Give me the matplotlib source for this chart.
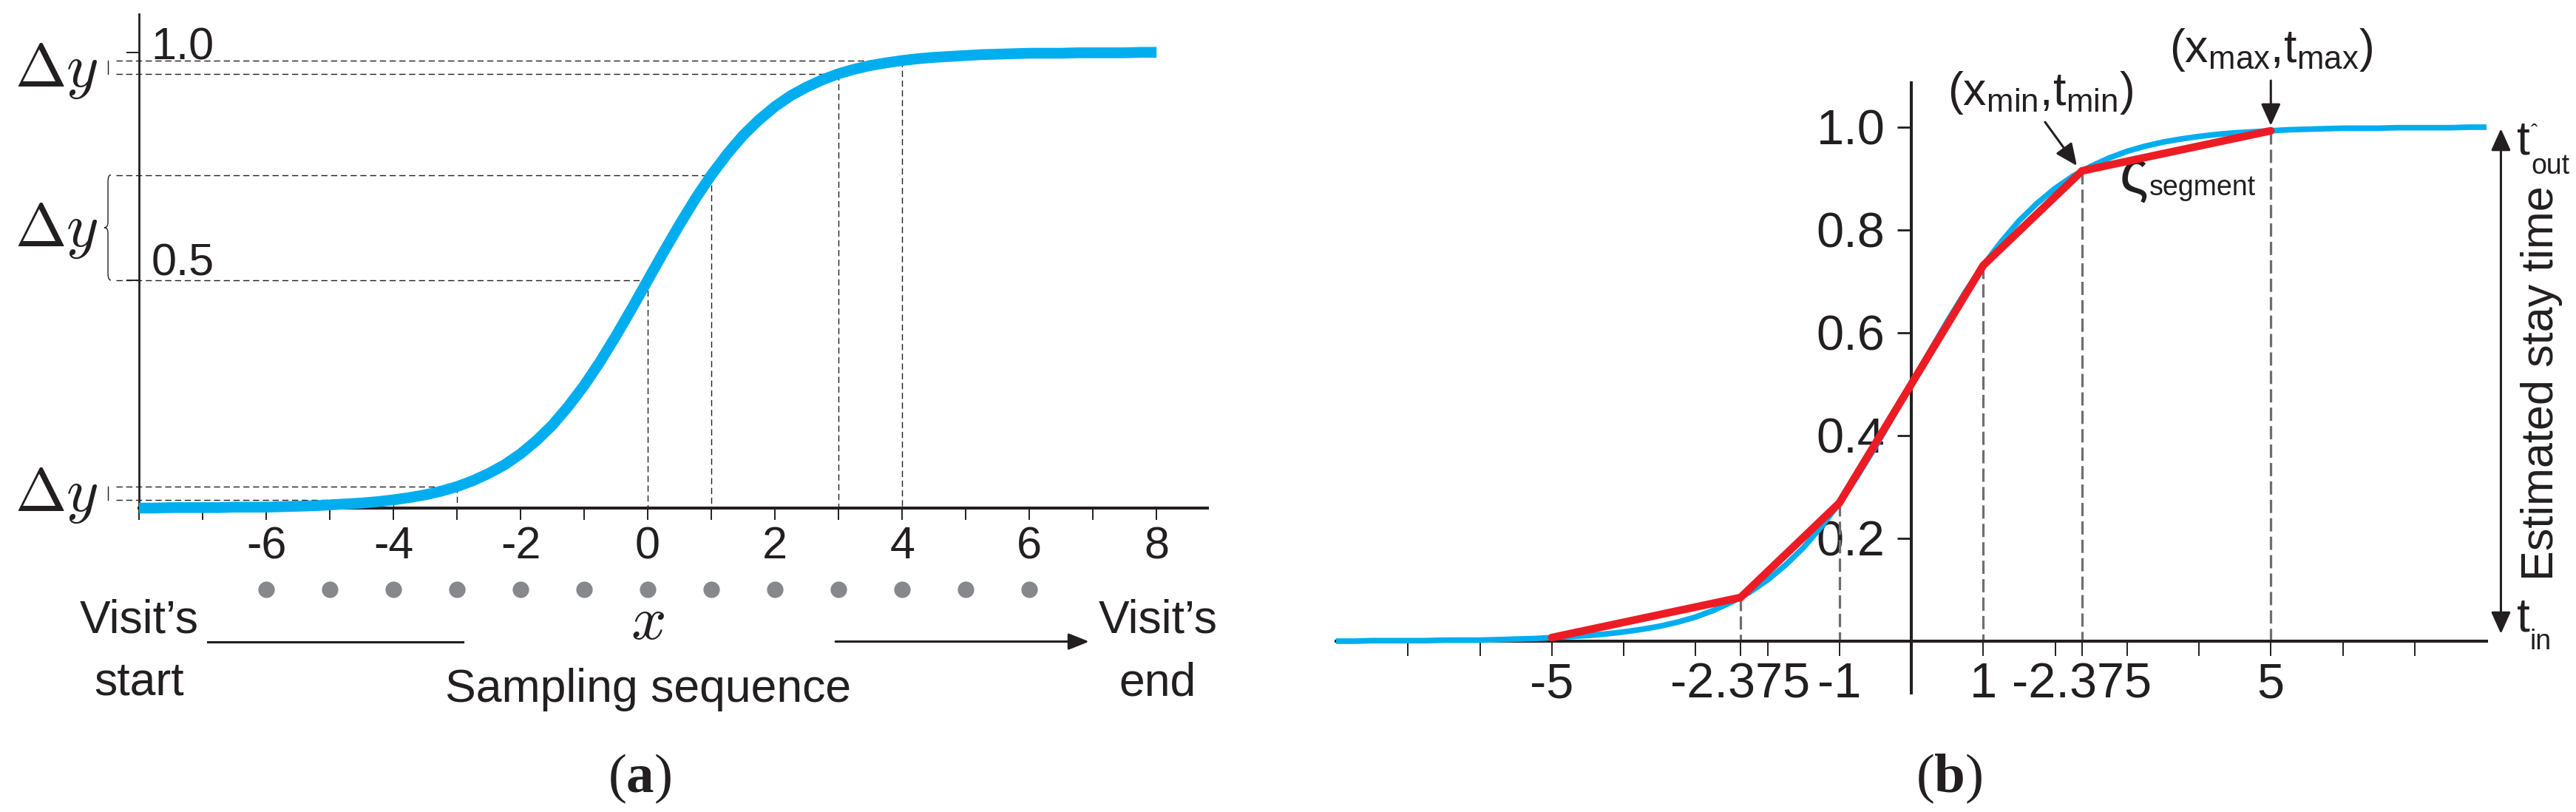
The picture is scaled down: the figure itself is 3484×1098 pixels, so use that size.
import matplotlib
matplotlib.use('Agg')
import matplotlib.pyplot as plt
import numpy as np
from matplotlib.path import Path
from matplotlib.patches import PathPatch

plt.rcParams['font.family'] = ['Liberation Sans', 'DejaVu Sans']
plt.rcParams['mathtext.fontset'] = 'custom'
plt.rcParams['mathtext.rm'] = 'Liberation Sans'
plt.rcParams['mathtext.it'] = 'Liberation Sans:italic'
plt.rcParams['mathtext.bf'] = 'Liberation Serif:bold'

regular = ['Liberation Sans', 'DejaVu Sans']
serif = ['Liberation Serif', 'DejaVu Serif']

blue = '#00aeef'
red = '#ed1c24'
dark = '#231f20'
dot_gray = '#87888c'
dash_gray = '#6d6e71'

curve_x = np.arange(-8, 8.01, 0.25)
curve_y = [0.000, 0.000, 0.001, 0.001, 0.001, 0.001, 0.002, 0.002,
           0.002, 0.003, 0.004, 0.005, 0.007, 0.009, 0.011, 0.014,
           0.018, 0.023, 0.029, 0.037, 0.047, 0.060, 0.076, 0.095,
           0.119, 0.148, 0.182, 0.223, 0.269, 0.321, 0.378, 0.438,
           0.500,
           0.562, 0.622, 0.679, 0.731, 0.777, 0.818, 0.852, 0.881,
           0.905, 0.924, 0.940, 0.953, 0.963, 0.971, 0.977, 0.982,
           0.986, 0.989, 0.991, 0.993, 0.995, 0.996, 0.997, 0.998,
           0.998, 0.998, 0.999, 0.999, 0.999, 0.999, 1.000, 1.000]

# panel (a)
ticks_a = list(range(-8, 9))
labels_a = [-6, -4, -2, 0, 2, 4, 6, 8]
sample_x = [-6, -5, -4, -3, -2, -1, 0, 1, 2, 3, 4, 5, 6]
guide_x = [-4, -3, 0, 1, 3, 4]
guide_y = [0.018, 0.047, 0.500, 0.731, 0.953, 0.982]

# panel (b)
knot_x = [-5, -2.375, -1, 1, 2.375, 5]
knot_y = [0.007, 0.085, 0.269, 0.731, 0.915, 0.993]
ticks_b = [-7, -6, -5, -4, -3, -2.375, -2, -1, 1, 2, 2.375, 3, 4, 5, 6, 7]
tick_labels_b = ['', '', '-5', '', '', '-2.375', '', '-1', '1', '', '-2.375', '', '', '5', '', '']
yticks_b = [0.2, 0.4, 0.6, 0.8, 1.0]

W, H = 3484, 1098
fig = plt.figure(figsize=(W / 100, H / 100), dpi=100)

# ---------------- (a) ----------------
ax = fig.add_axes([188 / W, 1 - 687 / H, 1445 / W, 668 / H])
ax.patch.set_visible(False)
ax.set_xlim(-8, 8.8)
ax.set_ylim(0, 1.084)
ax.spines['top'].set_visible(False)
ax.spines['right'].set_visible(False)
ax.spines['bottom'].set_linewidth(2.9)
ax.spines['left'].set_linewidth(2.0)
ax.spines['bottom'].set_color(dark)
ax.spines['left'].set_color(dark)
ax.set_xticks(ticks_a)
ax.set_xticklabels([str(t) if t in labels_a else '' for t in ticks_a])
ax.tick_params(axis='x', length=11.5, width=1.4, pad=6, labelsize=44,
               color=dark, labelcolor=dark)
ax.set_yticks([0.5, 1.0])
ax.set_yticklabels([])
ax.tick_params(axis='y', length=12, width=1.4, color=dark)

ax.plot(curve_x, curve_y, color=blue, lw=10.5, solid_capstyle='butt',
        clip_on=False, zorder=4)

for gx, gy in zip(guide_x, guide_y):
    ax.plot([-8.36, gx], [gy, gy], color=dark, lw=1.0, dashes=(6, 3.5),
            clip_on=False, zorder=2)
    ax.plot([gx, gx], [gy, 0], color=dark, lw=1.0, dashes=(6, 3.5),
            clip_on=False, zorder=2)

ax.text(-7.81, 0.985, '1.0', fontsize=44, color=dark, ha='left', va='baseline')
ax.text(-7.81, 0.51, '0.5', fontsize=44, color=dark, ha='left', va='baseline')

# delta-y marks with braces
for yb in [0.925, 0.5747, -0.0065]:
    ax.text(-9.953, yb, r'$\Delta y$', math_fontfamily='cm', fontsize=60,
            color=dark, ha='left', va='baseline', clip_on=False)
xm, xt, xe = -8.488, -8.547, -8.442
yt, yb = guide_y[3], guide_y[2]
ym = (yt + yb) / 2
verts = [(xe, yt), (xm, yt), (xm, yt - 0.015), (xm, ym + 0.012),
         (xm, ym), (xt, ym), (xm, ym), (xm, ym - 0.012),
         (xm, yb + 0.015), (xm, yb), (xe, yb)]
codes = [Path.MOVETO, Path.CURVE3, Path.CURVE3, Path.LINETO,
         Path.CURVE3, Path.CURVE3, Path.CURVE3, Path.CURVE3,
         Path.LINETO, Path.CURVE3, Path.CURVE3]
ax.add_patch(PathPatch(Path(verts, codes), fill=False, lw=1.0, color=dark,
                       clip_on=False))
ax.plot([xm, xm], [guide_y[4], guide_y[5]], color=dark, lw=1.0, clip_on=False)
ax.plot([xm, xm], [guide_y[0], guide_y[1]], color=dark, lw=1.0, clip_on=False)

# sampling sequence below the axis
ax.plot(sample_x, np.full(len(sample_x), -0.179), 'o', ms=16, color=dot_gray,
        mec='none', clip_on=False)
ax.text(-8, -0.2727, 'Visit\u2019s', fontsize=45, color=dark, ha='center', va='baseline')
ax.text(-8, -0.409, 'start', fontsize=45, color=dark, ha='center', va='baseline')
ax.text(8.02, -0.2727, 'Visit\u2019s', fontsize=45, color=dark, ha='center', va='baseline')
ax.text(8.02, -0.412, 'end', fontsize=45, color=dark, ha='center', va='baseline')
ax.text(0, -0.2873, r'$x$', math_fontfamily='cm', fontsize=60, color=dark,
        ha='center', va='baseline')
ax.text(0, -0.4245, 'Sampling sequence', fontsize=45, color=dark,
        ha='center', va='baseline')
ax.plot([-6.92, -2.907], [-0.293, -0.293], color=dark, lw=2.2, clip_on=False)
ax.annotate('', xy=(6.94, -0.293), xytext=(2.953, -0.293), annotation_clip=False,
            arrowprops=dict(arrowstyle='-|>,head_length=1.0,head_width=0.4',
                            mutation_scale=17, lw=2.2, color=dark,
                            shrinkA=0, shrinkB=0))
ax.text(-0.128, -0.594, r'($\mathbf{a}$)', family=serif, fontsize=54, color=dark,
        ha='center', va='center')

# ---------------- (b) ----------------
bx = fig.add_axes([1807 / W, 1 - 936.5 / H, 1556 / W, 824.3 / H])
bx.patch.set_visible(False)
bx.set_xlim(-8, 8)
bx.set_ylim(-0.1, 1.086)
bx.spines['top'].set_visible(False)
bx.spines['right'].set_visible(False)
bx.spines['left'].set_position(('data', 0))
bx.spines['bottom'].set_position(('data', 0))
for s in ['left', 'bottom']:
    bx.spines[s].set_linewidth(2.9)
    bx.spines[s].set_color(dark)
bx.set_xticks(ticks_b)
bx.set_xticklabels(tick_labels_b)
bx.tick_params(axis='x', length=14.4, width=1.4, pad=6, labelsize=48,
               color=dark, labelcolor=dark)
bx.set_yticks(yticks_b)
bx.set_yticklabels(['%.1f' % v for v in yticks_b])
bx.tick_params(axis='y', length=13.7, width=2.0, pad=12, labelsize=48,
               color=dark, labelcolor=dark)

for kx, ky in zip(knot_x[1:], knot_y[1:]):
    bx.plot([kx, kx], [ky, 0], color=dash_gray, lw=2.3, dashes=(5.6, 2.2),
            zorder=2)
bx.plot(curve_x, curve_y, color=blue, lw=5.5, solid_capstyle='butt',
        clip_on=False, zorder=3)
bx.plot(knot_x, knot_y, color=red, lw=7.5, solid_capstyle='round',
        solid_joinstyle='miter', clip_on=False, zorder=4)

arrow = dict(arrowstyle='-|>,head_length=1.0,head_width=0.45', mutation_scale=18,
             lw=2.2, color=dark, shrinkA=0, shrinkB=0)
bx.text(1.80, 1.0432, r'$\mathrm{(x_{min}{,}t_{min})}$', fontsize=45, color=dark,
        ha='center', va='baseline')
bx.annotate('', xy=(2.302, 0.925), xytext=(1.86, 1.010), annotation_clip=False,
            arrowprops=arrow)
bx.text(5.005, 1.1266, r'$\mathrm{(x_{max}{,}t_{max})}$', fontsize=45, color=dark,
        ha='center', va='baseline')
bx.annotate('', xy=(5.0, 1.003), xytext=(5.0, 1.0906), annotation_clip=False,
            arrowprops=arrow)
bx.text(2.90, 0.874, '\u03c2', family=regular, fontsize=58, color=dark,
        ha='left', va='baseline')
bx.text(3.31, 0.8676, 'segment', family=regular, fontsize=27, color=dark,
        ha='left', va='baseline')

# stay-time arrow on the right
bx.annotate('', xy=(8.20, 0.997), xytext=(8.20, 0.0144), annotation_clip=False,
            arrowprops=dict(arrowstyle='<|-|>,head_length=1.0,head_width=0.45',
                            mutation_scale=18, lw=2.2, color=dark,
                            shrinkA=0, shrinkB=0))
bx.text(8.42, 0.9468, 't', family=regular, fontsize=46, color=dark,
        ha='left', va='baseline')
bx.text(8.664, 0.978, '\u02c6', family=regular, fontsize=20, color=dark,
        ha='center', va='baseline')
bx.text(8.62, 0.909, 'out', family=regular, fontsize=27, color=dark,
        ha='left', va='baseline')
bx.text(8.42, 0.0201, 't', family=regular, fontsize=46, color=dark,
        ha='left', va='baseline')
bx.text(8.60, -0.0158, 'in', family=regular, fontsize=27, color=dark,
        ha='left', va='baseline')
bx.text(8.77, 0.502, 'Estimated stay time', family=regular, fontsize=44,
        color=dark, rotation=90, ha='center', va='center')
bx.text(0.53, -0.268, r'($\mathbf{b}$)', family=serif, fontsize=54, color=dark,
        ha='center', va='center')

fig.savefig('out.png', dpi=100)
